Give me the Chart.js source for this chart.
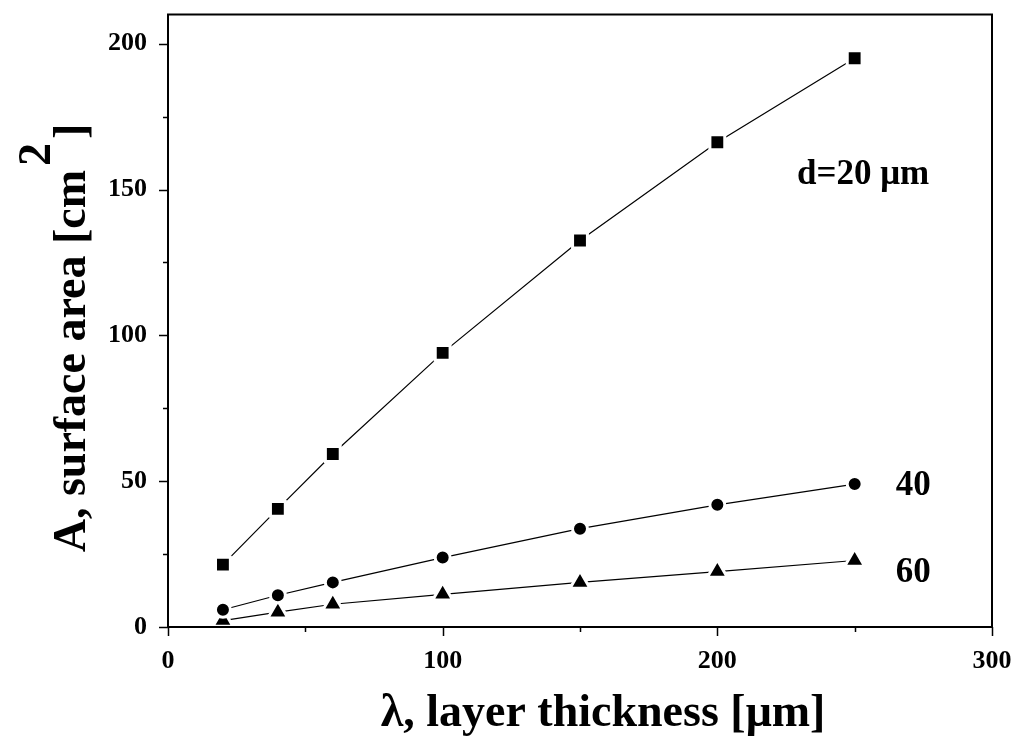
<!DOCTYPE html>
<html>
<head>
<meta charset="utf-8">
<script src="https://cdn.jsdelivr.net/npm/chart.js@4.4.1/dist/chart.umd.min.js"></script>
<style>
  html, body { margin: 0; padding: 0; background: #fff; }
  #wrap { width: 1021px; height: 738px; position: relative; }
</style>
</head>
<body>
<div id="wrap"><canvas id="chart" width="1021" height="738"></canvas></div>
<script>
// Layer thickness (µm) and surface area (cm²) for three particle sizes d
const thickness = [20, 40, 60, 100, 150, 200, 250];
const areaD20 = [21.4, 40.5, 59.3, 94.0, 132.5, 166.2, 195.0];
const areaD40 = [5.9, 10.9, 15.3, 23.8, 33.7, 41.9, 49.0];
const areaD60 = [2.2, 5.1, 7.8, 11.2, 15.3, 19.0, 22.8];
const seriesNames = ['d=20 μm', '40', '60'];

const xMajorTicks = [0, 100, 200, 300];
const xMinorTicks = [50, 150, 250];
const yMajorTicks = [0, 50, 100, 150, 200];
const yMinorTicks = [25, 75, 125, 175];

const xTitle = 'λ, layer thickness [μm]';
const yTitleMain = 'A, surface area [cm';
const yTitleSup = '2';
const yTitleEnd = ']';

const SERIF = '"Liberation Serif", "Times New Roman", serif';

function pts(ys) { return thickness.map((x, i) => ({ x: x, y: ys[i] })); }

// Series labels are anchored in data space, just right of the last points
const labelAnchors = [
  { x: 229, y: 155 },
  { x: 265, y: 48.3 },
  { x: 265, y: 18.4 }
];

const framePlugin = {
  id: 'frameAndTicks',
  afterDatasetsDraw(chart) {
    const { ctx, chartArea: a, scales } = chart;
    const xs = scales.x, ys = scales.y;
    ctx.save();
    ctx.strokeStyle = '#000';
    ctx.lineWidth = 2;
    ctx.strokeRect(a.left, a.top, a.right - a.left, a.bottom - a.top);
    ctx.lineWidth = 1.5;
    ctx.beginPath();
    const tick = (v, len, isX) => {
      if (isX) {
        const p = Math.round(xs.getPixelForValue(v)) + 0.5;
        ctx.moveTo(p, a.bottom); ctx.lineTo(p, a.bottom + len);
      } else {
        const p = Math.round(ys.getPixelForValue(v)) + 0.5;
        ctx.moveTo(a.left, p); ctx.lineTo(a.left - len, p);
      }
    };
    xMajorTicks.forEach(v => tick(v, 9, true));
    xMinorTicks.forEach(v => tick(v, 5, true));
    yMajorTicks.forEach(v => tick(v, 9, false));
    yMinorTicks.forEach(v => tick(v, 5, false));
    ctx.stroke();

    // series labels
    ctx.fillStyle = '#000';
    ctx.font = 'bold 35px ' + SERIF;
    ctx.textAlign = 'left';
    ctx.textBaseline = 'middle';
    seriesNames.forEach((t, i) => {
      const px = xs.getPixelForValue(labelAnchors[i].x);
      const py = ys.getPixelForValue(labelAnchors[i].y);
      ctx.fillText(t, px, py);
    });

    // x-axis title
    ctx.font = 'bold 46px ' + SERIF;
    ctx.textAlign = 'center';
    ctx.textBaseline = 'alphabetic';
    ctx.fillText(xTitle, 603, 726);

    // y-axis title, rotated, with raised exponent
    ctx.save();
    ctx.translate(85, 338);
    ctx.rotate(-Math.PI / 2);
    ctx.font = 'bold 46px ' + SERIF;
    const wMain = ctx.measureText(yTitleMain).width;
    const wSup = ctx.measureText(yTitleSup).width;
    const wEnd = ctx.measureText(yTitleEnd).width;
    const gap = 4;
    const total = wMain + wSup + wEnd + gap * 2;
    let cx = -total / 2;
    ctx.textAlign = 'left';
    ctx.fillText(yTitleMain, cx, 0);
    cx += wMain + gap;
    ctx.fillText(yTitleSup, cx, -35);
    cx += wSup + gap;
    ctx.fillText(yTitleEnd, cx, 0);
    ctx.restore();
    ctx.restore();
  }
};

const common = {
  borderColor: '#000',
  borderWidth: 1.2,
  backgroundColor: '#000',
  pointBackgroundColor: '#000',
  pointBorderColor: '#fff',
  pointBorderWidth: 3,
  pointHoverRadius: 0,
  showLine: true,
  tension: 0,
  clip: false
};

new Chart(document.getElementById('chart'), {
  type: 'scatter',
  data: {
    datasets: [
      Object.assign({}, common, { label: seriesNames[0], data: pts(areaD20), pointStyle: 'rect', pointRadius: 10.5 }),
      Object.assign({}, common, { label: seriesNames[1], data: pts(areaD40), pointStyle: 'circle', pointRadius: 7.5 }),
      Object.assign({}, common, { label: seriesNames[2], data: pts(areaD60), pointStyle: 'triangle', pointRadius: 11.5 })
    ]
  },
  options: {
    responsive: false,
    animation: false,
    events: [],
    layout: { padding: { top: 10, right: 29, left: 0, bottom: 0 } },
    plugins: { legend: { display: false }, tooltip: { enabled: false } },
    scales: {
      x: {
        type: 'linear', min: 0, max: 300,
        afterBuildTicks: s => { s.ticks = xMajorTicks.map(v => ({ value: v })); },
        afterFit: s => { s.height = 111; s.paddingLeft = 0; s.paddingRight = 0; },
        grid: { display: false, drawTicks: false },
        border: { display: false },
        ticks: {
          color: '#000', padding: 19, maxRotation: 0, autoSkip: false,
          font: { family: SERIF, weight: 'bold', size: 26 },
          callback: v => String(v)
        }
      },
      y: {
        type: 'linear', min: 0, max: 210,
        afterBuildTicks: s => { s.ticks = yMajorTicks.map(v => ({ value: v })); },
        afterFit: s => { s.width = 168; s.paddingTop = 0; s.paddingBottom = 0; },
        grid: { display: false, drawTicks: false },
        border: { display: false },
        ticks: {
          color: '#000', padding: 21, autoSkip: false,
          font: { family: SERIF, weight: 'bold', size: 26 },
          callback: v => String(v)
        }
      }
    }
  },
  plugins: [framePlugin]
});
</script>
</body>
</html>
